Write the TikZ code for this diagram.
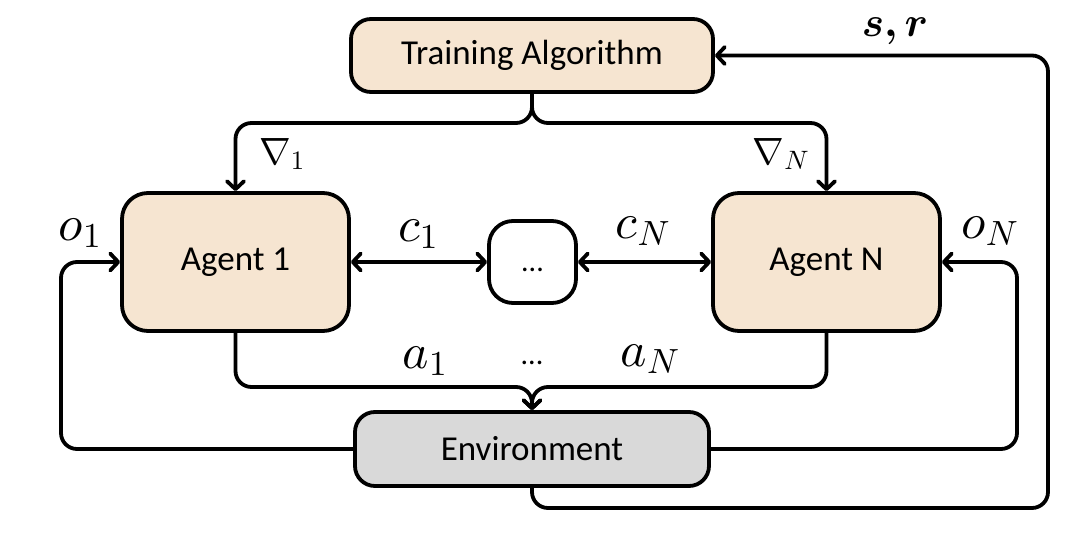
\RequirePackage{fix-cm}
\documentclass[tikz,border=0pt]{standalone}
\usepackage{amsmath,bm}
\usepackage{fontspec}
\setmainfont{Carlito}
\DeclareFontShape{OML}{cmm}{m}{it}{<->cmmi10}{}
\DeclareFontShape{OML}{cmm}{b}{it}{<->cmmib10}{}
\DeclareFontShape{OMS}{cmsy}{m}{n}{<->cmsy10}{}
\DeclareFontShape{OT1}{cmr}{m}{n}{<->cmr10}{}
\usetikzlibrary{arrows.meta}
\definecolor{beige}{HTML}{F6E5D1}
\definecolor{envgray}{HTML}{D9D9D9}
\begin{document}
\begin{tikzpicture}[x=1pt,y=-1pt,
 box/.style={draw, line width=3.8pt, rounded corners=20pt, inner sep=0pt, font=\fontsize{35}{40}\selectfont},
 flow/.style={line width=3.8pt, line join=round, line cap=round, rounded corners=16pt},
 barb/.tip={Straight Barb[length=8pt,width=17pt,line cap=round,line join=round]},
 tip/.style={-barb},
 lbl/.style={inner sep=0pt, font=\fontsize{50}{54}\selectfont},
 glbl/.style={inner sep=0pt, font=\fontsize{38}{42}\selectfont}]
\useasboundingbox (0,0) rectangle (1080,540);
\node[box, fill=beige, minimum width=362pt, minimum height=73pt] (train) at (532,55.5) {Training Algorithm};
\node[box, fill=beige, minimum width=227pt, minimum height=138pt, rounded corners=26pt] (ag1) at (235.5,262) {Agent 1};
\node[box, fill=beige, minimum width=227pt, minimum height=138pt, rounded corners=26pt] (agN) at (826.5,262) {Agent N};
\node[box, fill=white, minimum width=87pt, minimum height=82pt, rounded corners=24pt] (dots) at (532.5,262) {\fontsize{30}{34}\selectfont\vphantom{A}...};
\node[box, fill=envgray, minimum width=354pt, minimum height=74pt] (env) at (532,449) {Environment};
% junctions
\coordinate (gj) at (532,123);
\coordinate (aj) at (532,387);
\coordinate (obsL) at (61,262);
\coordinate (obsR) at (1017,262);
\coordinate (srB) at (1048,508);
\coordinate (srT) at (1048,55.5);
% gradients
\draw[flow,tip] (train.south) -- (gj) -| (ag1.north);
\draw[flow,tip] (train.south) -- (gj) -| (agN.north);
% actions
\draw[flow,tip] (ag1.south) |- (aj) -- (env.north);
\draw[flow,tip] (agN.south) |- (aj) -- (env.north);
% observations
\draw[flow,tip] (env.west) -| (obsL) -- (ag1.west);
\draw[flow,tip] (env.east) -| (obsR) -- (agN.east);
% state, reward
\draw[flow,tip] (env.south) |- (srB) -- (srT) -- (train.east);
% communication
\draw[flow,barb-barb] (ag1.east) -- (dots.west);
\draw[flow,barb-barb] (dots.east) -- (agN.west);
% labels
\node[glbl] (g1) at (282,154) {$\nabla_1$};
\node[glbl] (gN) at (781,154) {$\nabla_N$};
\node[lbl] (c1) at (418,234) {$c_1$};
\node[lbl] (cN) at (643,231) {$c_N$};
\node[lbl] (o1) at (80,233) {$o_1$};
\node[lbl] (oN) at (990,231) {$o_N$};
\node[lbl] (a1) at (425,361) {$a_1$};
\node[lbl] (aN) at (650,359) {$a_N$};
\node[inner sep=0pt, font=\fontsize{30}{34}\selectfont] (adots) at (532,363) {...};
\node[inner sep=0pt, font=\fontsize{42}{46}\selectfont] (sr) at (895,31) {$\boldsymbol{s,r}$};
\end{tikzpicture}
\end{document}
